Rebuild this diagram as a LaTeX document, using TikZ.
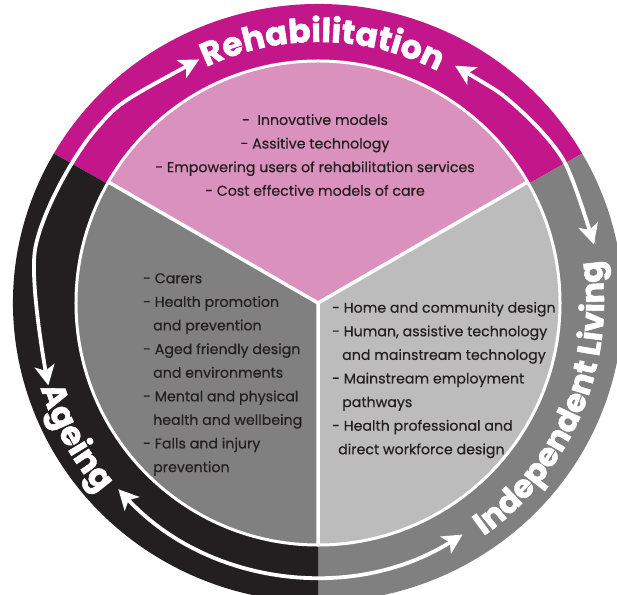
\documentclass[tikz,border=0pt]{standalone}
\usepackage{fontspec}
\setmainfont{Poppins}[FakeBold=0.4]
\newfontfamily\headfont{Poppins}[BoldFeatures={FakeBold=1.6}]
\usetikzlibrary{decorations.text,arrows.meta}
\definecolor{magring}{RGB}{196,22,139}
\definecolor{pinksec}{RGB}{219,145,190}
\definecolor{blackring}{RGB}{35,31,32}
\definecolor{darksec}{RGB}{128,128,128}
\definecolor{grayring}{RGB}{128,128,128}
\definecolor{lightsec}{RGB}{189,188,188}
\definecolor{txt}{RGB}{35,31,32}
\begin{document}
\begin{tikzpicture}[x=1pt,y=1pt,
  tip/.tip={Stealth[length=20pt,width=20pt,inset=5pt]},
  arr/.style={white, line width=3.8pt, tip-tip},
  body/.style={font=\fontsize{14.2}{23.6}\selectfont, text=txt, inner sep=0pt},
  ringtext/.style={decorate, decoration={text along path, text align=center, text color=white}}
]
\useasboundingbox (-318,-291) rectangle (299,303);
\fill[white] (-318,-291) rectangle (299,303);
% outer ring
\fill[magring] (0,0) -- (150:305 and 299) arc[start angle=150,end angle=30,x radius=305,y radius=299] -- cycle;
\fill[grayring] (0,0) -- (30:305 and 299) arc[start angle=30,end angle=-90,x radius=305,y radius=299] -- cycle;
\fill[blackring] (0,0) -- (150:305 and 299) arc[start angle=150,end angle=270,x radius=305,y radius=299] -- cycle;
% inner sectors
\fill[pinksec] (0,0) -- (30:242) arc[start angle=30,end angle=150,radius=242] -- cycle;
\fill[darksec] (0,0) -- (150:242) arc[start angle=150,end angle=270,radius=242] -- cycle;
\fill[lightsec] (0,0) -- (270:242) arc[start angle=270,end angle=390,radius=242] -- cycle;
\draw[white, line width=3pt] (0,0) circle[radius=242];
\draw[white, line width=3.5pt] (0,0) -- (30:242) (0,0) -- (150:242) (0,0) -- (270:242);
% arrows
\draw[arr] plot[smooth] coordinates {(116:271) (142:282) (169:288) (197:282)};
\draw[arr] plot[smooth] coordinates {(60:274) (45:279) (30:284) (12:282)};
\draw[arr] (223:273) arc[start angle=223,end angle=302,radius=273];
% ring titles
\path[ringtext, decoration={text={|\headfont\bfseries\fontsize{33}{33}\selectfont|Rehabilitation}}] (149:261) arc[start angle=149,end angle=29,radius=261];
\path[ringtext, decoration={text={|\headfont\bfseries\fontsize{33}{33}\selectfont|Ageing}}] (170:290) arc[start angle=170,end angle=248,radius=290];
\path[ringtext, decoration={text={|\headfont\bfseries\fontsize{32}{32}\selectfont|Independent Living}}] (-70:286) arc[start angle=-70,end angle=24,radius=286];
% sector texts
\node[body, align=center] (rehab) at (-3,148) {-~ Innovative models\\- Assitive technology\\- Empowering users of rehabilitation services\\- Cost effective models of care};
\node[body, align=left, anchor=west] (ageing) at (-175,-71.5) {- Carers\\- Health promotion\\\hspace*{10pt}and prevention\\- Aged friendly design\\\hspace*{10pt}and environments\\- Mental and physical\\\hspace*{10pt}health and wellbeing\\- Falls and injury\\\hspace*{10pt}prevention};
\node[body, align=left, anchor=west] (indep) at (14,-77) {- Home and community design\\- Human, assistive technology\\\hspace*{10pt}and mainstream technology\\- Mainstream employment\\\hspace*{10pt}pathways\\- Health professional and\\\hspace*{6pt}direct workforce design};
\end{tikzpicture}
\end{document}
